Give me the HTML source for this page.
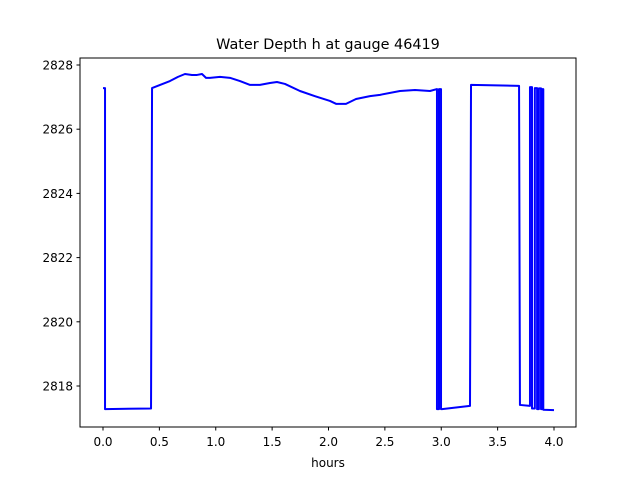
<!DOCTYPE html>
<html><head><meta charset="utf-8"><style>
body{margin:0;background:#fff}
svg{display:block;font-family:"DejaVu Sans","Liberation Sans",sans-serif}
</style></head><body>
<svg id="chart" width="640" height="480" viewBox="0 0 640 480">
<rect width="640" height="480" fill="#fff"/>
<text x="328" y="49" text-anchor="middle" font-size="14.4">Water Depth h at gauge 46419</text>
<g id="xt"></g>
<g id="yt"></g>
<text x="328" y="467" text-anchor="middle" font-size="12">hours</text>
<path id="line" fill="none" stroke="#0000ff" stroke-width="2" stroke-linejoin="round"/>
<rect x="80" y="58" width="496" height="369" fill="none" stroke="#000" stroke-width="1"/>
</svg>
<script>
const times=[0.0,0.018,0.018,0.426,0.435,0.506,0.594,0.665,0.727,0.789,0.834,0.878,0.914,0.949,1.038,1.126,1.215,1.304,1.392,1.481,1.543,1.614,1.747,1.880,2.013,2.067,2.155,2.244,2.368,2.457,2.634,2.767,2.900,2.962,2.962,2.980,2.980,2.998,2.998,3.007,3.255,3.264,3.690,3.698,3.787,3.787,3.805,3.805,3.830,3.830,3.850,3.850,3.866,3.866,3.885,3.885,3.893,3.893,3.905,3.905,4.0];
const depths=[2827.28,2827.28,2817.28,2817.3,2827.28,2827.38,2827.50,2827.63,2827.72,2827.69,2827.69,2827.72,2827.60,2827.60,2827.63,2827.60,2827.50,2827.38,2827.38,2827.44,2827.47,2827.41,2827.19,2827.03,2826.88,2826.79,2826.79,2826.94,2827.03,2827.07,2827.19,2827.22,2827.19,2827.25,2817.28,2817.28,2827.25,2827.25,2817.28,2817.28,2817.38,2827.38,2827.35,2817.41,2817.38,2827.31,2827.31,2817.30,2817.30,2827.28,2827.28,2817.28,2817.28,2827.27,2827.27,2817.28,2817.28,2827.25,2827.25,2817.26,2817.25];
const xTicks=[0,0.5,1,1.5,2,2.5,3,3.5,4];
const xLabels=["0.0","0.5","1.0","1.5","2.0","2.5","3.0","3.5","4.0"];
const yTicks=[2818,2820,2822,2824,2826,2828];
const yLabels=["2818","2820","2822","2824","2826","2828"];
const X=t=>103+t*112.75;
const Y=h=>65+(2828-h)*32.1;
const NS="http://www.w3.org/2000/svg";
const xt=document.getElementById('xt'),yt=document.getElementById('yt');
xTicks.forEach((v,i)=>{
 const l=document.createElementNS(NS,'line');
 l.setAttribute('x1',X(v));l.setAttribute('x2',X(v));l.setAttribute('y1',427);l.setAttribute('y2',430.5);l.setAttribute('stroke','#000');
 
 
 xt.appendChild(l);
 const t=document.createElementNS(NS,'text');
 t.setAttribute('x',X(v));t.setAttribute('y',446);t.setAttribute('text-anchor','middle');t.setAttribute('font-size','12');
 t.textContent=xLabels[i];
 
 
 xt.appendChild(t);
});
yTicks.forEach((v,i)=>{
 const l=document.createElementNS(NS,'line');
 l.setAttribute('x1',76.5);l.setAttribute('x2',80);l.setAttribute('y1',Y(v));l.setAttribute('y2',Y(v));l.setAttribute('stroke','#000');
 
 
 yt.appendChild(l);
 const t=document.createElementNS(NS,'text');
 t.setAttribute('x',73);t.setAttribute('y',Y(v)+4.5);t.setAttribute('text-anchor','end');t.setAttribute('font-size','12');
 t.textContent=yLabels[i];
 
 
 yt.appendChild(t);
});
document.getElementById('line').setAttribute('d',times.map((t,i)=>(i?'L':'M')+X(t).toFixed(2)+','+Y(depths[i]).toFixed(2)).join(''));
</script>
</body></html>
